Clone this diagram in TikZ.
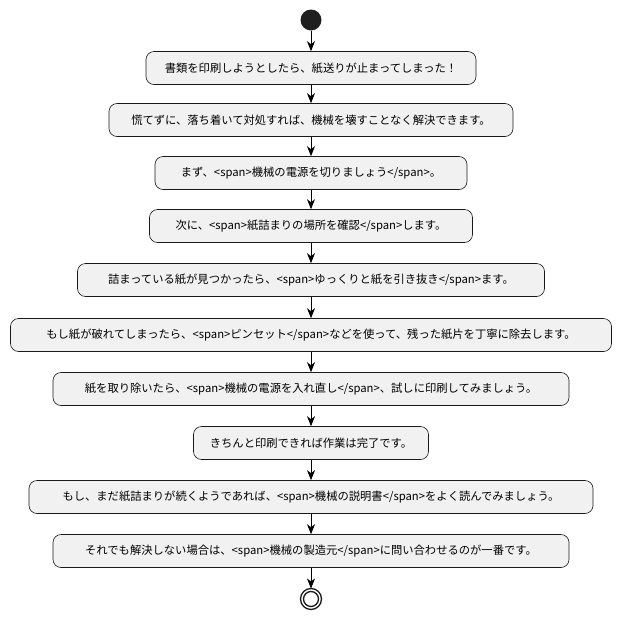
\documentclass[tikz,border=0pt]{standalone}
\usepackage{fontspec}
\setmainfont{Noto Sans CJK JP}
\usetikzlibrary{arrows.meta,shapes.misc}
\begin{document}
\begin{tikzpicture}[x=1pt,y=-1pt,
 box/.style={draw=black!90,fill=black!5.5,rounded corners=8pt,line width=0.6pt,minimum height=33pt,inner sep=0pt,font=\fontsize{11.3}{13}\selectfont},
 arr/.style={line width=0.8pt,-{Stealth[length=10pt,width=8pt,inset=3pt]}}]
\useasboundingbox (0,0) rectangle (622,619);
\node[circle,fill=black!88,minimum size=21pt,inner sep=0pt] (s) at (311,20) {};
\newcommand\bx[5]{\node[box,minimum width=#3pt] (#1) at (311,#2) {#5};}
\bx{a}{68}{330}{}{書類を印刷しようとしたら、紙送りが止まってしまった！}
\bx{b}{120}{404}{}{慌てずに、落ち着いて対処すれば、機械を壊すことなく解決できます。}
\bx{c}{173}{312}{}{まず、<span>機械の電源を切りましょう</span>。}
\bx{d}{226}{323}{}{次に、<span>紙詰まりの場所を確認</span>します。}
\bx{e}{280}{467}{}{詰まっている紙が見つかったら、<span>ゆっくりと紙を引き抜き</span>ます。}
\bx{f}{335}{601}{}{もし紙が破れてしまったら、<span>ピンセット</span>などを使って、残った紙片を丁寧に除去します。}
\bx{g}{389}{516}{}{紙を取り除いたら、<span>機械の電源を入れ直し</span>、試しに印刷してみましょう。}
\bx{h}{443}{235}{}{きちんと印刷できれば作業は完了です。}
\bx{i}{497}{564}{}{もし、まだ紙詰まりが続くようであれば、<span>機械の説明書</span>をよく読んでみましょう。}
\bx{j}{551}{516}{}{それでも解決しない場合は、<span>機械の製造元</span>に問い合わせるのが一番です。}
\node[draw=black!90,cross out,circle,line width=1.3pt,minimum size=15pt,inner sep=0pt] (e1) at (311,599) {};
\draw[draw=black!90,line width=1.3pt] (e1) circle (10.5pt);
\draw[arr] (s) -- (a);
\foreach \p/\q in {a/b,b/c,c/d,d/e,e/f,f/g,g/h,h/i,i/j}{\draw[arr] (\p) -- (\q);}
\draw[arr] (j.south) -- (311,588.5);
\end{tikzpicture}
\end{document}
